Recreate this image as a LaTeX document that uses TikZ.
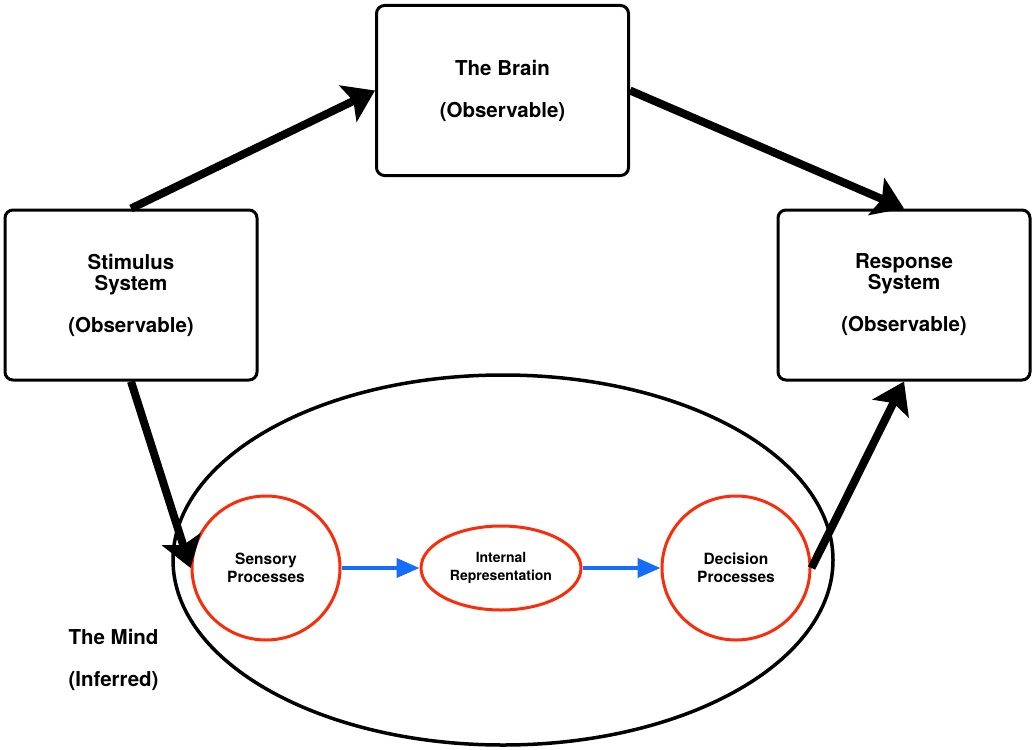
\documentclass[tikz,border=0pt]{standalone}
\usepackage{fontspec}
\setmainfont{TeX Gyre Heros}
\usetikzlibrary{arrows.meta,shapes.geometric}
\definecolor{procred}{RGB}{250,45,10}
\definecolor{flowblue}{RGB}{20,110,250}

\begin{document}
\begin{tikzpicture}[x=1pt, y=-1pt, node distance={235pt},
  box/.style = {draw, line width=3pt, rounded corners=8pt, minimum width=252pt, minimum height=170pt, align=center, font=\fontsize{20.5}{21}\selectfont\bfseries},
  proc/.style = {draw=procred, ellipse, line width=3pt, inner sep=0pt, minimum width=148pt, minimum height=144pt, align=center, font=\fontsize{15.5}{18}\selectfont\bfseries},
  big/.style = {line width=8pt, -{Stealth[length=30pt,width=40pt,inset=6pt]}},
  flow/.style = {draw=flowblue, line width=4pt, -{Triangle[length=23pt,width=19pt]}}]
\useasboundingbox (0,0) rectangle (1032,749);
\node[box] (brain) at (502.5,90.5) {The Brain\\[21pt](Observable)};
\node[box] (stim) at (131,295) {Stimulus\\System\\[21pt](Observable)};
\node[box] (resp) at (904,295) {Response\\System\\[21pt](Observable)};
\node[draw, ellipse, line width=3.5pt, minimum width=660pt, minimum height=370pt] (mind) at (503,560) {};
\node[proc] (sens) at (266,568) {Sensory\\Processes};
\node[proc, minimum width=160pt, minimum height=84pt, font=\fontsize{14}{17.5}\selectfont\bfseries] (intern) [right of=sens] {Internal\\Representation};
\node[proc] (dec) [right of=intern] {Decision\\Processes};
\node[align=left, anchor=west, font=\fontsize{20.5}{21}\selectfont\bfseries] (label) at (65,660) {The Mind\\[21pt](Inferred)};
\draw[big] (stim.north) -- (brain.west);
\draw[big] (brain.east) -- (resp.north);
\draw[big] (stim.south) -- (sens.west);
\draw[big] (dec.east) -- (resp.south);
\draw[flow] (sens) -- (intern);
\draw[flow] (intern) -- (dec);
\end{tikzpicture}
\end{document}
